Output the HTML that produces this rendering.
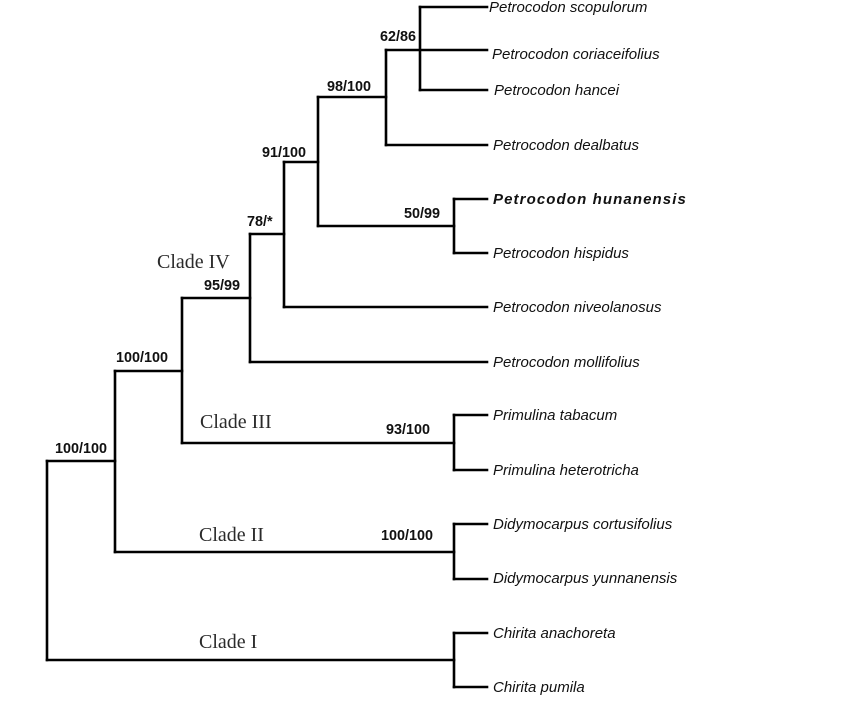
<!DOCTYPE html>
<html>
<head>
<meta charset="utf-8">
<style>
html,body{margin:0;padding:0;background:#fff;}
svg{display:block;}
.tip{font-family:"Liberation Sans",Arial,sans-serif;font-style:italic;font-size:15px;fill:#111;}
.sup{font-family:"Liberation Sans",Arial,sans-serif;font-weight:bold;font-size:14.4px;fill:#111;}
.clade{font-family:"Liberation Serif","Times New Roman",serif;font-size:20px;fill:#2a2a2a;}
</style>
</head>
<body>
<svg width="864" height="724" viewBox="0 0 864 724" xmlns="http://www.w3.org/2000/svg">
<g stroke="#000" stroke-width="2.6" fill="none" stroke-linecap="square">
  <line x1="420" y1="7" x2="420" y2="90"/>
  <line x1="420" y1="7" x2="487" y2="7"/>
  <line x1="386" y1="50" x2="487" y2="50"/>
  <line x1="420" y1="90" x2="487" y2="90"/>
  <line x1="386" y1="50" x2="386" y2="145"/>
  <line x1="386" y1="145" x2="487" y2="145"/>
  <line x1="318" y1="97" x2="386" y2="97"/>
  <line x1="318" y1="97" x2="318" y2="226"/>
  <line x1="318" y1="226" x2="454" y2="226"/>
  <line x1="454" y1="199" x2="454" y2="253"/>
  <line x1="454" y1="199" x2="487" y2="199"/>
  <line x1="454" y1="253" x2="487" y2="253"/>
  <line x1="284" y1="162" x2="284" y2="307"/>
  <line x1="284" y1="162" x2="318" y2="162"/>
  <line x1="284" y1="307" x2="487" y2="307"/>
  <line x1="250" y1="234" x2="250" y2="362"/>
  <line x1="250" y1="234" x2="284" y2="234"/>
  <line x1="250" y1="362" x2="487" y2="362"/>
  <line x1="182" y1="298" x2="182" y2="443"/>
  <line x1="182" y1="298" x2="250" y2="298"/>
  <line x1="182" y1="443" x2="454" y2="443"/>
  <line x1="454" y1="415" x2="454" y2="470"/>
  <line x1="454" y1="415" x2="487" y2="415"/>
  <line x1="454" y1="470" x2="487" y2="470"/>
  <line x1="115" y1="371" x2="115" y2="552"/>
  <line x1="115" y1="371" x2="182" y2="371"/>
  <line x1="115" y1="552" x2="454" y2="552"/>
  <line x1="454" y1="524" x2="454" y2="579"/>
  <line x1="454" y1="524" x2="487" y2="524"/>
  <line x1="454" y1="579" x2="487" y2="579"/>
  <line x1="47" y1="461" x2="47" y2="660"/>
  <line x1="47" y1="461" x2="115" y2="461"/>
  <line x1="47" y1="660" x2="454" y2="660"/>
  <line x1="454" y1="633" x2="454" y2="687"/>
  <line x1="454" y1="633" x2="487" y2="633"/>
  <line x1="454" y1="687" x2="487" y2="687"/>
</g>

<text class="tip" x="489" y="12">Petrocodon scopulorum</text>
<text class="tip" x="492" y="59">Petrocodon coriaceifolius</text>
<text class="tip" x="494" y="95">Petrocodon hancei</text>
<text class="tip" x="493" y="150">Petrocodon dealbatus</text>
<text class="tip" x="493" y="204" style="font-weight:bold;font-size:15px;letter-spacing:1.1px">Petrocodon hunanensis</text>
<text class="tip" x="493" y="258">Petrocodon hispidus</text>
<text class="tip" x="493" y="312">Petrocodon niveolanosus</text>
<text class="tip" x="493" y="367">Petrocodon mollifolius</text>
<text class="tip" x="493" y="420">Primulina tabacum</text>
<text class="tip" x="493" y="475">Primulina heterotricha</text>
<text class="tip" x="493" y="529">Didymocarpus cortusifolius</text>
<text class="tip" x="493" y="583">Didymocarpus yunnanensis</text>
<text class="tip" x="493" y="638">Chirita anachoreta</text>
<text class="tip" x="493" y="692">Chirita pumila</text>

<text class="sup" x="380" y="41">62/86</text>
<text class="sup" x="327" y="91">98/100</text>
<text class="sup" x="262" y="157">91/100</text>
<text class="sup" x="247" y="226">78/*</text>
<text class="sup" x="404" y="218">50/99</text>
<text class="sup" x="204" y="290">95/99</text>
<text class="sup" x="116" y="362">100/100</text>
<text class="sup" x="55" y="453">100/100</text>
<text class="sup" x="386" y="434">93/100</text>
<text class="sup" x="381" y="540">100/100</text>

<text class="clade" x="157" y="268">Clade IV</text>
<text class="clade" x="200" y="428">Clade III</text>
<text class="clade" x="199" y="541">Clade II</text>
<text class="clade" x="199" y="648">Clade I</text>
</svg>
</body>
</html>
